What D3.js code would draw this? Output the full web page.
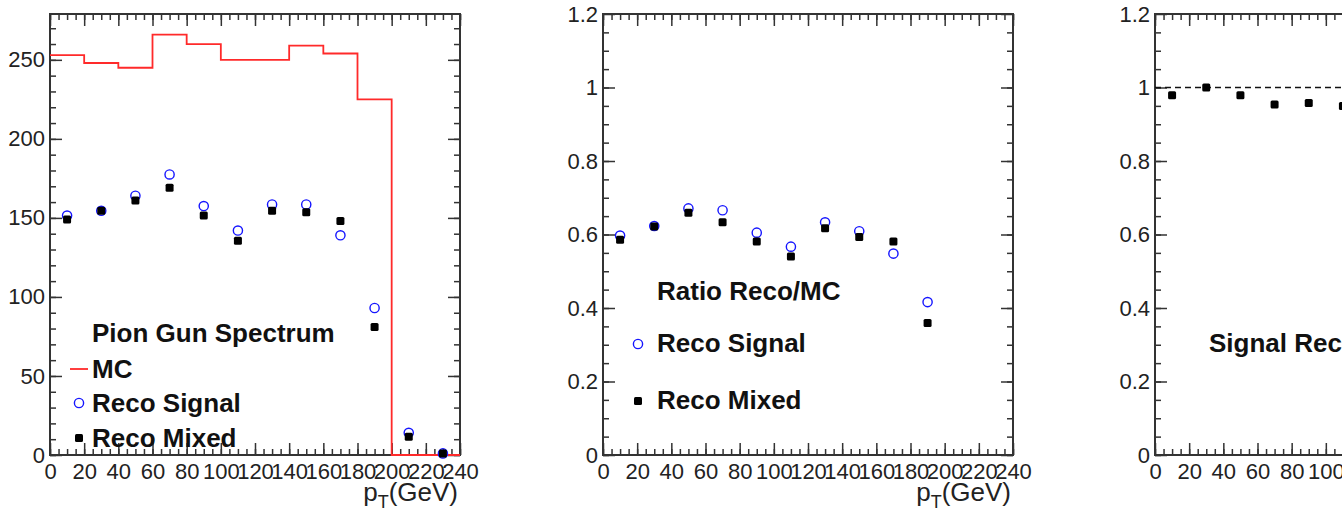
<!DOCTYPE html>
<html>
<head>
<meta charset="utf-8">
<script src="https://cdn.jsdelivr.net/npm/d3@7"></script>
<style>
  body { margin: 0; background: #fff; }
  svg { display: block; font-family: "Liberation Sans", Arial, sans-serif; }
</style>
</head>
<body>
<script>
// pT bins (GeV), 20 GeV wide
var binEdges = [0, 20, 40, 60, 80, 100, 120, 140, 160, 180, 200, 220, 240]
var binCenters = [10, 30, 50, 70, 90, 110, 130, 150, 170, 190, 210, 230]

// spectrum counts
var mcCounts = [253, 248, 245, 266, 260, 250, 250, 259, 254, 225, 0, 0]
var recoSignal = [151.5, 154.5, 164, 177.5, 157.5, 142, 158.5, 158.5, 139, 93, 14, 1]
var recoMixed = [149, 154.5, 161, 169, 151.5, 135.5, 154.5, 153.5, 148, 81, 11.5, 1]

// ratio Reco/MC (first 10 bins)
var ratioSignal = [0.597, 0.623, 0.671, 0.666, 0.605, 0.567, 0.633, 0.609, 0.548, 0.416]
var ratioMixed = [0.586, 0.622, 0.659, 0.633, 0.581, 0.540, 0.617, 0.593, 0.581, 0.359]

// ratio mixed / signal
var ratioMixSig = [0.979, 1.0, 0.979, 0.954, 0.958, 0.950, 0.975, 0.970, 1.06, 0.87]

var xTicks = [0, 20, 40, 60, 80, 100, 120, 140, 160, 180, 200, 220, 240]

var W = 1342, H = 517
var pw = 410, yTop = 14, yBottom = 455
var axisCol = "#333"

var svg = d3.select("body").append("svg")
    .attr("width", W)
    .attr("height", H)

function makePanel(x0, yMax, yMajor, yMinor, fmt){
    var g = svg.append("g").attr("transform", "translate(" + x0 + ",0)")
    var x = d3.scaleLinear().domain([0, 240]).range([0, pw])
    var y = d3.scaleLinear().domain([0, yMax]).range([yBottom, yTop])

    var ax = g.append("g").attr("class", "axes")

    // minor ticks
    ax.append("g").attr("transform", "translate(0," + yBottom + ")")
        .call(d3.axisBottom(x).tickValues(d3.range(0, 241, 5)).tickSize(-6).tickSizeOuter(0).tickFormat(""))
    ax.append("g").attr("transform", "translate(0," + yTop + ")")
        .call(d3.axisTop(x).tickValues(d3.range(0, 241, 5)).tickSize(-6).tickSizeOuter(0).tickFormat(""))
    ax.append("g")
        .call(d3.axisLeft(y).tickValues(yMinor).tickSize(-6).tickSizeOuter(0).tickFormat(""))
    ax.append("g").attr("transform", "translate(" + pw + ",0)")
        .call(d3.axisRight(y).tickValues(yMinor).tickSize(-6).tickSizeOuter(0).tickFormat(""))

    // major ticks
    ax.append("g").attr("class", "xlab").attr("transform", "translate(0," + yBottom + ")")
        .call(d3.axisBottom(x).tickValues(xTicks).tickSize(-12).tickSizeOuter(0).tickPadding(8))
    ax.append("g").attr("transform", "translate(0," + yTop + ")")
        .call(d3.axisTop(x).tickValues(xTicks).tickSize(-12).tickSizeOuter(0).tickFormat(""))
    ax.append("g").attr("class", "ylab")
        .call(d3.axisLeft(y).tickValues(yMajor).tickSize(-12).tickSizeOuter(0).tickPadding(5).tickFormat(fmt))
    ax.append("g").attr("transform", "translate(" + pw + ",0)")
        .call(d3.axisRight(y).tickValues(yMajor).tickSize(-12).tickSizeOuter(0).tickFormat(""))

    ax.selectAll(".domain").remove()
    ax.selectAll("line").attr("stroke", axisCol).attr("stroke-width", 1.5)
    ax.selectAll("text").attr("font-size", 22).attr("fill", "#222")
        .attr("font-family", "Liberation Sans, Arial, sans-serif")

    g.append("rect")
        .attr("x", 0).attr("y", yTop)
        .attr("width", pw).attr("height", yBottom - yTop)
        .attr("fill", "none").attr("stroke", axisCol).attr("stroke-width", 2)

    // x title
    var t = g.append("text")
        .attr("x", pw - 2).attr("y", 501)
        .attr("text-anchor", "end")
        .attr("font-size", 26).attr("fill", "#222")
    t.append("tspan").text("p")
    t.append("tspan").attr("font-size", 18).attr("dy", 7).text("T")
    t.append("tspan").attr("dy", -7).text("(GeV)")

    return {g: g, x: x, y: y}
}

function drawSignal(p, xs, vals){
    p.g.append("g").selectAll("circle")
        .data(vals)
        .enter()
        .append("circle")
        .attr("cx", (d, i) => p.x(xs[i]))
        .attr("cy", (d) => p.y(d))
        .attr("r", 4.6)
        .attr("fill", "none")
        .attr("stroke", "#1515ff")
        .attr("stroke-width", 1.4)
}

function drawMixed(p, xs, vals){
    p.g.append("g").selectAll("rect")
        .data(vals)
        .enter()
        .append("rect")
        .attr("x", (d, i) => p.x(xs[i]) - 4)
        .attr("y", (d) => p.y(d) - 4)
        .attr("width", 8).attr("height", 8)
        .attr("rx", 1.5)
        .attr("fill", "#000")
}

function legendText(p, x, y, txt){
    p.g.append("text")
        .attr("x", x).attr("y", y)
        .attr("font-size", 26).attr("font-weight", "bold")
        .attr("fill", "#111")
        .text(txt)
}

var fmtRatio = (d) => d < 1e-6 ? "0" : (Math.abs(d - 1) < 1e-6 ? "1" : d3.format(".1f")(d))
var ident = (v) => v

// ---- panel 1: spectrum
var p1 = makePanel(50, 279, d3.range(0, 251, 50), d3.range(0, 279, 10), d3.format("d"))

var stepPts = binEdges.map((e, i) => [e, i < mcCounts.length ? mcCounts[i] : mcCounts[mcCounts.length - 1]])
p1.g.append("path")
    .datum(stepPts)
    .attr("d", d3.line().x((d) => p1.x(d[0])).y((d) => p1.y(d[1])).curve(d3.curveStepAfter))
    .attr("fill", "none")
    .attr("stroke", "#ff2a2a")
    .attr("stroke-width", 1.8)

drawSignal(p1, binCenters, recoSignal)
drawMixed(p1, binCenters, recoMixed)

legendText(p1, 42, 342, "Pion Gun Spectrum")
p1.g.append("line").attr("x1", 20).attr("x2", 38).attr("y1", 369).attr("y2", 369)
    .attr("stroke", "#ff2a2a").attr("stroke-width", 1.8)
legendText(p1, 42, 378, "MC")
drawSignal({g: p1.g, x: ident, y: ident}, [29], [403])
legendText(p1, 42, 412, "Reco Signal")
drawMixed({g: p1.g, x: ident, y: ident}, [29], [438])
legendText(p1, 42, 447, "Reco Mixed")

// ---- panel 2: ratio Reco/MC
var p2 = makePanel(603, 1.2, d3.range(0, 1.21, 0.2), d3.range(0, 1.2, 0.05), fmtRatio)
drawSignal(p2, binCenters.slice(0, 10), ratioSignal)
drawMixed(p2, binCenters.slice(0, 10), ratioMixed)

legendText(p2, 54, 300, "Ratio Reco/MC")
drawSignal({g: p2.g, x: ident, y: ident}, [35], [344])
legendText(p2, 54, 352, "Reco Signal")
drawMixed({g: p2.g, x: ident, y: ident}, [35], [401])
legendText(p2, 54, 409, "Reco Mixed")

// ---- panel 3: mixed / signal
var p3 = makePanel(1155, 1.2, d3.range(0, 1.21, 0.2), d3.range(0, 1.2, 0.05), fmtRatio)
p3.g.append("line")
    .attr("x1", p3.x(0)).attr("x2", p3.x(240))
    .attr("y1", p3.y(1)).attr("y2", p3.y(1))
    .attr("stroke", "#111").attr("stroke-width", 1.3)
    .attr("stroke-dasharray", "6,4")
drawMixed(p3, binCenters.slice(0, 10), ratioMixSig)
legendText(p3, 54, 352, "Signal Reco/Mixed Reco")
</script>
</body>
</html>
